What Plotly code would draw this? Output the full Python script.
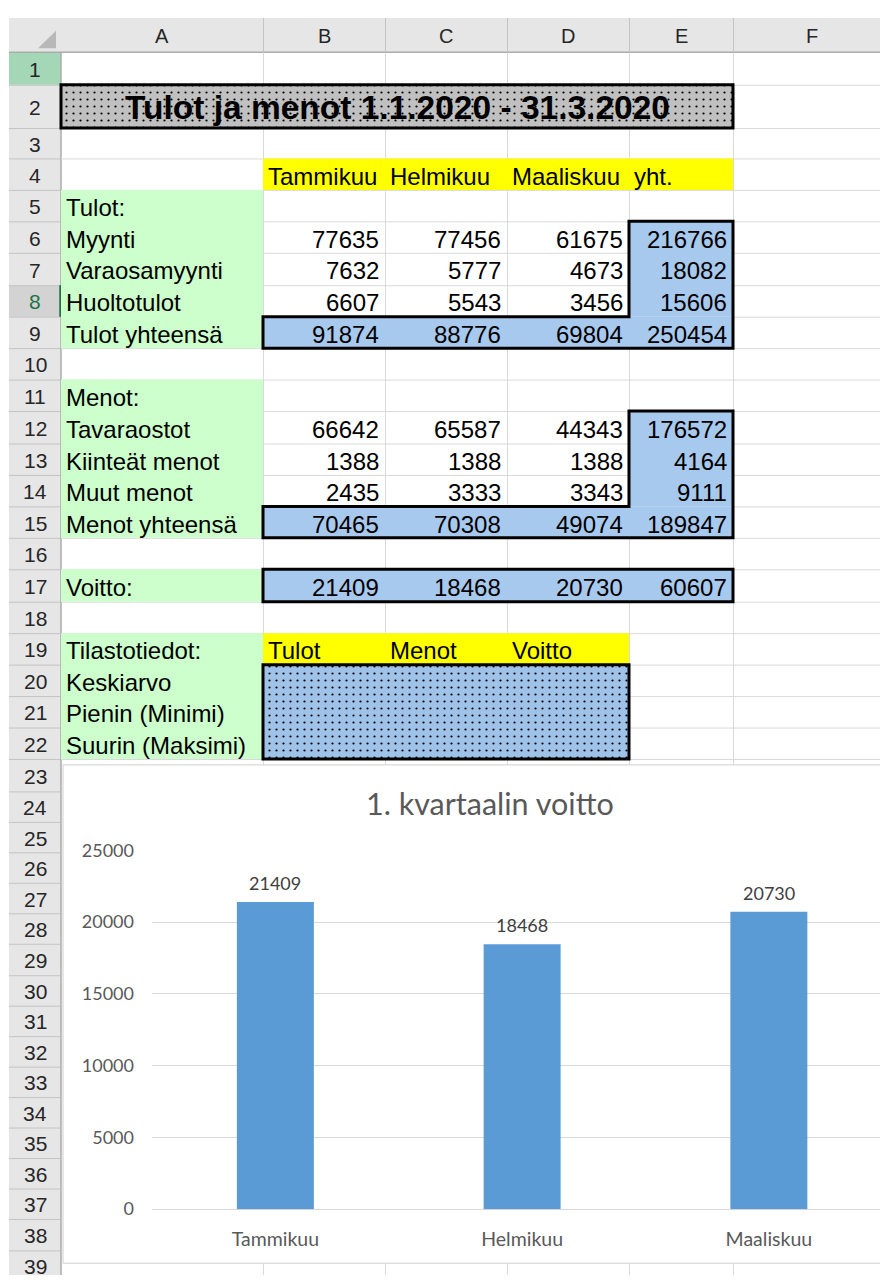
import plotly.graph_objects as go

# ---------------- data ----------------
sheet_title = "Tulot ja menot 1.1.2020 - 31.3.2020"
column_letters = ["A", "B", "C", "D", "E", "F"]
months = ["Tammikuu", "Helmikuu", "Maaliskuu"]
total_header = "yht."

income_labels = ["Tulot:", "Myynti", "Varaosamyynti", "Huoltotulot", "Tulot yhteensä"]
myynti = [77635, 77456, 61675]
varaosamyynti = [7632, 5777, 4673]
huoltotulot = [6607, 5543, 3456]
tulot_yhteensa = [91874, 88776, 69804]
income_row_totals = [216766, 18082, 15606, 250454]

expense_labels = ["Menot:", "Tavaraostot", "Kiinteät menot", "Muut menot", "Menot yhteensä"]
tavaraostot = [66642, 65587, 44343]
kiinteat_menot = [1388, 1388, 1388]
muut_menot = [2435, 3333, 3343]
menot_yhteensa = [70465, 70308, 49074]
expense_row_totals = [176572, 4164, 9111, 189847]

profit_label = "Voitto:"
voitto = [21409, 18468, 20730]
voitto_total = 60607

stats_labels = ["Tilastotiedot:", "Keskiarvo", "Pienin (Minimi)", "Suurin (Maksimi)"]
stats_headers = ["Tulot", "Menot", "Voitto"]

chart_title = "1. kvartaalin voitto"
chart_yticks = [0, 5000, 10000, 15000, 20000, 25000]

# ---------------- geometry / style ----------------
W, H = 880, 1285
COL = [61, 263, 385, 507, 629, 733, 930]      # column edges A..F
HX0, HY0, HY1 = 9, 6, 41                        # header extents
SHEET_FONT = "Liberation Sans, Arial, sans-serif"
CHART_FONT = "Lato, Carlito, sans-serif"
GRID = "#d9d9d9"
HDR_FILL = "#e6e6e6"
HDR_LINE = "#c4c4c4"
GREEN = "#ccffcc"
YELLOW = "#ffff00"
BLUE = "#a8c9ee"
FS = 24


def row_top(n):
    fixed = {1: 41, 2: 74, 3: 118, 4: 149, 5: 181, 23: 760, 24: 793}
    if n in fixed:
        return fixed[n]
    if n < 23:
        return round(181 + (n - 5) * 32.2)
    return round(793 + (n - 24) * 31.1)


def row_mid(n):
    return (row_top(n) + row_top(n + 1)) / 2


shapes = []
annotations = []


def rect(x0, x1, y0, y1, fill, lc=None, lw=0):
    shapes.append(dict(type="rect", xref="x", yref="y", x0=x0, x1=x1, y0=y0, y1=y1,
                       fillcolor=fill, line=dict(width=lw, color=lc or fill), layer="below"))


def hline(x0, x1, y, color, w=1):
    shapes.append(dict(type="line", xref="x", yref="y", x0=x0, x1=x1, y0=y, y1=y,
                       line=dict(color=color, width=w), layer="below"))


def vline(x, y0, y1, color, w=1):
    shapes.append(dict(type="line", xref="x", yref="y", x0=x, x1=x, y0=y0, y1=y1,
                       line=dict(color=color, width=w), layer="below"))


def path(d, w=3, color="black"):
    shapes.append(dict(type="path", xref="x", yref="y", path=d,
                       line=dict(color=color, width=w), fillcolor="rgba(0,0,0,0)", layer="below"))


def txt(text, x, y, anchor="left", size=FS, color="#000000", family=SHEET_FONT,
        xref="x", yref="y", weight="normal", yanchor="middle", yshift=0):
    annotations.append(dict(text=text, x=x, y=y, xref=xref, yref=yref, xanchor=anchor,
                            yanchor=yanchor, yshift=yshift, showarrow=False,
                            font=dict(size=size, color=color, family=family, weight=weight)))


def cell_left(text, col, row):
    txt(text, COL[col] + 3, row_mid(row) + 2, "left")


def cell_right(text, col, row):
    txt(text, COL[col + 1] - 4, row_mid(row) + 2, "right")


LAST_ROW = 39

# headers background
rect(HX0, W, HY0, HY1, HDR_FILL)
rect(HX0, COL[0], HY1, H, HDR_FILL)
rect(HX0, COL[0], row_top(1), row_top(2), "#a3d7b6")
rect(HX0, COL[0], row_top(8), row_top(9), "#d3d3d3")

# header separators
for c in COL[1:-1]:
    vline(c + 0.5, HY0, HY1, HDR_LINE)
for n in range(2, LAST_ROW + 2):
    hline(HX0, COL[0], row_top(n) + 0.5, HDR_LINE)
hline(HX0, W, HY1, "#ababab", 1.5)
vline(COL[0], HY1, H, "#ababab", 1.5)
vline(COL[0] - 0.5, row_top(8), row_top(9), "#217346", 2.5)
# corner triangle
shapes.append(dict(type="path", xref="x", yref="y", path="M 56 19 L 56 37 L 38 37 Z",
                   fillcolor="#b8b8b8", line=dict(width=0), layer="below"))

# cell gridlines
for n in range(2, LAST_ROW + 2):
    hline(COL[0], W, row_top(n) + 0.5, GRID)
for c in COL[1:-1]:
    vline(c + 0.5, HY1, H, GRID)

# fills
for r0, r1 in [(5, 10), (11, 16), (17, 18), (19, 23)]:
    rect(COL[0], COL[1], row_top(r0), row_top(r1), GREEN)
rect(COL[1], COL[5], row_top(4), row_top(5), YELLOW)
rect(COL[1], COL[4], row_top(19), row_top(20), YELLOW)
for r0 in (6, 12):
    rect(COL[4], COL[5], row_top(r0), row_top(r0 + 3), BLUE)
    rect(COL[1], COL[5], row_top(r0 + 3), row_top(r0 + 4), BLUE)
rect(COL[1], COL[5], row_top(17), row_top(18), BLUE)

# thick borders (L-shaped total blocks + profit row)
for r0 in (6, 12):
    t, m, b = row_top(r0), row_top(r0 + 3), row_top(r0 + 4)
    path(f"M {COL[4]} {t} L {COL[5]} {t} L {COL[5]} {b} L {COL[1]} {b} "
         f"L {COL[1]} {m} L {COL[4]} {m} Z")
path(f"M {COL[1]} {row_top(17)} L {COL[5]} {row_top(17)} L {COL[5]} {row_top(18)} "
     f"L {COL[1]} {row_top(18)} Z")

# chart frame (white, covers grid)
CH_X0, CH_X1, CH_Y0, CH_Y1 = 63, 917, 766, 1273
rect(CH_X0, CH_X1, CH_Y0, CH_Y1, "#ffffff", "#d0d0d0", 1)

# ---------------- header text ----------------
for i, letter in enumerate(column_letters):
    txt(letter, (COL[i] + COL[i + 1]) / 2 if i < 5 else 812, (HY0 + HY1) / 2 + 1,
        "center", size=20, color="#262626")
for n in range(1, LAST_ROW + 1):
    txt(str(n), (HX0 + COL[0]) / 2, row_mid(n) + 1, "center", size=21,
        color="#217346" if n == 8 else "#262626")

# ---------------- sheet text ----------------
txt(sheet_title, (COL[0] + COL[5]) / 2, row_mid(2) + 1, "center", size=33.5, weight="bold")

for j, m in enumerate(months):
    cell_left(m, j + 1, 4)
cell_left(total_header, 4, 4)

for k, lab in enumerate(income_labels):
    cell_left(lab, 0, 5 + k)
for k, (vals, tot) in enumerate(zip([myynti, varaosamyynti, huoltotulot, tulot_yhteensa],
                                    income_row_totals)):
    for j, v in enumerate(vals):
        cell_right(str(v), j + 1, 6 + k)
    cell_right(str(tot), 4, 6 + k)

for k, lab in enumerate(expense_labels):
    cell_left(lab, 0, 11 + k)
for k, (vals, tot) in enumerate(zip([tavaraostot, kiinteat_menot, muut_menot, menot_yhteensa],
                                    expense_row_totals)):
    for j, v in enumerate(vals):
        cell_right(str(v), j + 1, 12 + k)
    cell_right(str(tot), 4, 12 + k)

cell_left(profit_label, 0, 17)
for j, v in enumerate(voitto):
    cell_right(str(v), j + 1, 17)
cell_right(str(voitto_total), 4, 17)

for k, lab in enumerate(stats_labels):
    cell_left(lab, 0, 19 + k)
for j, lab in enumerate(stats_headers):
    cell_left(lab, j + 1, 19)

# ---------------- figure ----------------
fig = go.Figure()

# dotted-pattern cells (title block and statistics block)
pattern_cells = [
    dict(x0=COL[0], x1=COL[5], y0=row_top(2), y1=row_top(3), bg="#c0c0c0"),
    dict(x0=COL[1], x1=COL[4], y0=row_top(20), y1=row_top(23), bg="#9fc2e8"),
]
for pc in pattern_cells:
    fig.add_trace(go.Bar(
        x=[(pc["x0"] + pc["x1"]) / 2], y=[pc["y1"] - pc["y0"]], base=[pc["y0"]],
        width=[pc["x1"] - pc["x0"]], xaxis="x", yaxis="y", showlegend=False,
        hoverinfo="skip",
        marker=dict(color=pc["bg"], line=dict(color="black", width=3),
                    pattern=dict(shape=".", fillmode="replace", bgcolor=pc["bg"],
                                 fgcolor="#000000", size=7, solidity=0.08)),
    ))

# the profit chart
PLOT_X0, PLOT_Y0, PLOT_Y1 = 152, 853, 1218
CAT_W = 246.75
fig.add_trace(go.Bar(
    x=months, y=voitto, xaxis="x2", yaxis="y2", width=0.312, showlegend=False,
    marker=dict(color="#5b9bd5", line=dict(width=0)), hoverinfo="skip",
))
for m, v in zip(months, voitto):
    txt(str(v), m, v, "center", size=18, color="#404040", family=CHART_FONT,
        xref="x2", yref="y2", yanchor="bottom", yshift=6)
txt(chart_title, (CH_X0 + CH_X1) / 2, 805, "center", size=30.5, color="#595959",
    family=CHART_FONT)

fig.update_layout(
    width=W, height=H, margin=dict(l=0, r=0, t=0, b=0),
    paper_bgcolor="#ffffff", plot_bgcolor="rgba(0,0,0,0)",
    barmode="overlay", showlegend=False,
    shapes=shapes, annotations=annotations,
    xaxis=dict(range=[0, W], domain=[0, 1], visible=False, fixedrange=True),
    yaxis=dict(range=[H, 0], domain=[0, 1], visible=False, fixedrange=True),
    xaxis2=dict(domain=[PLOT_X0 / W, 1], anchor="y2", type="category",
                range=[-0.5, -0.5 + (W - PLOT_X0) / CAT_W],
                showgrid=False, showline=False, zeroline=False, ticks="",
                tickfont=dict(family=CHART_FONT, size=19.5, color="#595959"),
                ticklabelstandoff=16, fixedrange=True),
    yaxis2=dict(domain=[(H - PLOT_Y1) / H, (H - PLOT_Y0) / H], anchor="x2",
                range=[0, 25000], tickvals=chart_yticks, tickformat="d",
                showgrid=True, gridcolor=GRID, gridwidth=1,
                zeroline=True, zerolinecolor=GRID, zerolinewidth=1,
                showline=False, ticks="",
                tickfont=dict(family=CHART_FONT, size=18, color="#595959"),
                ticklabelstandoff=17, fixedrange=True),
)

fig.write_html(
    "out.html",
    config={"displayModeBar": False},
    post_script=(
        "document.body.style.margin='0';document.body.style.overflow='hidden';"
        "var g=document.getElementById('{plot_id}');"
        "g.style.position='absolute';g.style.left='0px';g.style.top='0px';"
    ),
)
